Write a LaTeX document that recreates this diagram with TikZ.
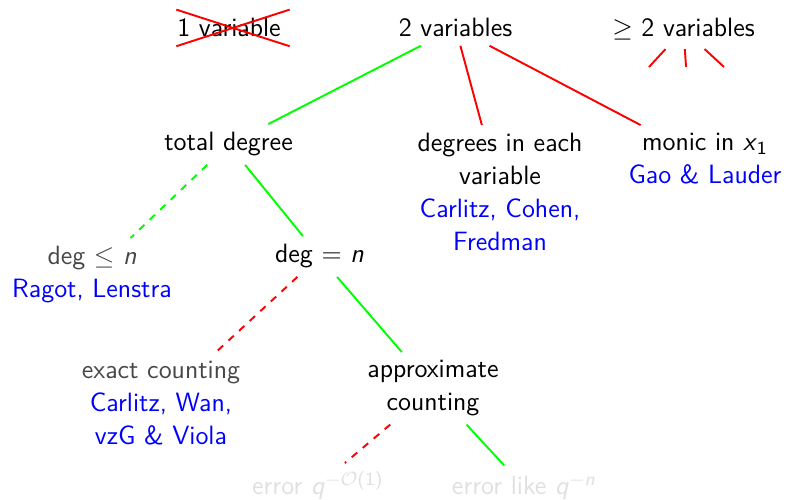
\documentclass[tikz,border=0pt]{standalone}
\usepackage{amsmath,amssymb}
\usepackage{tikz}
\usetikzlibrary{shapes.misc}
\usepackage{xcolor}
\newcommand{\who}[1]{\textcolor{blue}{#1}}
\tikzset{
  lbl/.style={font=\fontsize{11}{13.6}\selectfont\sffamily, align=center},
  dim/.style={text=black!72},
  faint/.style={text=black!12},
  keep/.style={thick, green},
  drop/.style={thick, red},
  gone/.style={cross out, draw=red, thick, inner xsep=0pt}
}

\begin{document}
\begin{tikzpicture}
  \useasboundingbox (0,0) rectangle (11.474,-7.299);
  % number of variables
  \node[lbl, anchor=base, gone] (one) at (3.401,-0.540) {1 variable\hspace{3.3pt}};
  \node[lbl, anchor=base] (two) at (6.650,-0.540) {2 variables};
  \node[lbl, anchor=base] (many) at (9.978,-0.540) {$\geq$ 2 variables};
  \coordinate (m1) at (9.474,-0.978);
  \coordinate (m2) at (10.015,-0.978);
  \coordinate (m3) at (10.569,-0.978);
  % kinds of degree
  \node[lbl, anchor=base] (td) at (3.336,-2.204) {total degree};
  \node[lbl, anchor=north] (dv) at (7.299,-1.826) {degrees in each\\variable\\\who{Carlitz, Cohen,}\\\who{Fredman}};
  \node[lbl, anchor=north] (mo) at (10.292,-1.826) {monic in \textit{x}\textsubscript{1}\\\who{Gao \& Lauder}};
  \node[lbl, dim, anchor=north] (dle) at (1.343,-3.475) {deg $\leq$ \textit{n}\\\who{Ragot, Lenstra}};
  \node[lbl, anchor=base] (deq) at (4.664,-3.839) {deg = \textit{n}};
  % counting
  \node[lbl, dim, anchor=north] (ex) at (2.350,-5.150) {exact counting\\\who{Carlitz, Wan,}\\\who{vzG \& Viola}};
  \node[lbl, anchor=north] (ap) at (6.321,-5.139) {approximate\\counting};
  \node[lbl, faint, anchor=base] (e1) at (4.642,-7.226) {error \textit{q}\textsuperscript{$-\mathcal{O}$(1)}};
  \node[lbl, faint, anchor=base] (e2) at (7.650,-7.226) {error like \textit{q}\textsuperscript{$-$\textit{n}}};
  \draw[keep] (two) -- (td);
  \draw[drop] (two) -- (dv);
  \draw[drop] (two) -- (mo);
  \draw[drop] (many) -- (m1);
  \draw[drop] (many) -- (m2);
  \draw[drop] (many) -- (m3);
  \draw[keep, dashed] (td) -- (dle);
  \draw[keep] (td) -- (deq);
  \draw[drop, dashed] (deq) -- (ex);
  \draw[keep] (deq) -- (ap);
  \draw[drop, dashed] (ap) -- (e1);
  \draw[keep] (ap) -- (e2);
\end{tikzpicture}
\end{document}
